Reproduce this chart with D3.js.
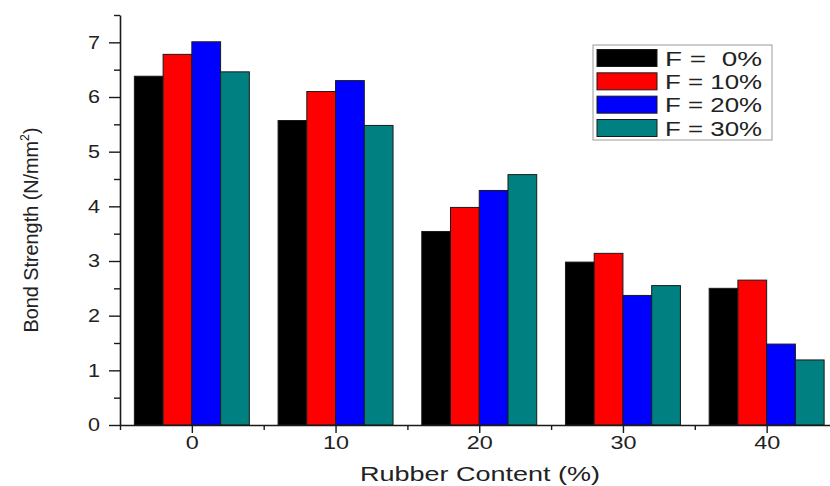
<!DOCTYPE html>
<html>
<head>
<meta charset="utf-8">
<script src="https://cdn.jsdelivr.net/npm/d3@7"></script>
<style>
  html, body { margin: 0; padding: 0; background: #fff; }
  svg { display: block; font-family: Arial, "Liberation Sans", sans-serif; }
</style>
</head>
<body>
<svg id="chart" width="830" height="486"></svg>
<script>
// ---- data ----
const categories = [0, 10, 20, 30, 40];
const seriesNames = ["F =  0%", "F = 10%", "F = 20%", "F = 30%"];
const f0  = [6.38, 5.57, 3.54, 2.98, 2.50];
const f10 = [6.78, 6.10, 3.98, 3.14, 2.65];
const f20 = [7.01, 6.30, 4.29, 2.37, 1.48];
const f30 = [6.46, 5.48, 4.58, 2.55, 1.19];
const seriesValues = [f0, f10, f20, f30];
const colors = ["#000000", "#ff0000", "#0000ff", "#008080"];
const yTickValues = [0, 1, 2, 3, 4, 5, 6, 7];
const yMinorTicks = [0.5, 1.5, 2.5, 3.5, 4.5, 5.5, 6.5, 7.5];
const xMinorTicks = [-5, 5, 15, 25, 35];
const xLabel = "Rubber Content (%)";

// ---- scales ----
const svg = d3.select("#chart");
const x = d3.scaleLinear().domain([-5, 45]).range([120, 838.5]);
const y = d3.scaleLinear().domain([0, 7.5]).range([425, 15]);
const barW = 2; // in data units (x)

// ---- bars ----
const bars = [];
seriesValues.forEach((vals, si) => {
  vals.forEach((v, ci) => bars.push({ si, cat: categories[ci], v }));
});
svg.append("g").selectAll("rect").data(bars).join("rect")
  .attr("x", d => x(d.cat - 2 * barW + d.si * barW))
  .attr("width", d => x(d.cat - barW + d.si * barW) - x(d.cat - 2 * barW + d.si * barW))
  .attr("y", d => y(d.v))
  .attr("height", d => y(0) - y(d.v))
  .attr("fill", d => colors[d.si])
  .attr("stroke", "#1a1a1a")
  .attr("stroke-width", 1);

// ---- axes ----
const axisColor = "#1a1a1a";
function styleAxis(g) {
  g.selectAll("path.domain").attr("stroke", axisColor).attr("stroke-width", 1.6);
  g.selectAll(".tick line").attr("stroke", axisColor).attr("stroke-width", 1.4);
  g.selectAll(".tick text").attr("fill", "#222").attr("font-size", 18)
    .attr("font-family", "Arial, 'Liberation Sans', sans-serif");
}

// y minor
svg.append("g").attr("transform", `translate(${x(-5)},0)`)
  .call(d3.axisLeft(y).tickValues(yMinorTicks).tickSize(6).tickSizeOuter(0).tickFormat(""))
  .call(g => g.select("path.domain").remove())
  .call(styleAxis);
// y major
svg.append("g").attr("transform", `translate(${x(-5)},0)`)
  .call(d3.axisLeft(y).tickValues(yTickValues).tickSize(11).tickSizeOuter(0).tickPadding(9).tickFormat(d3.format("d")))
  .call(styleAxis)
  .call(g => g.selectAll(".tick text").attr("textLength", 12).attr("lengthAdjust", "spacingAndGlyphs"));

// x minor
svg.append("g").attr("transform", `translate(0,${y(0)})`)
  .call(d3.axisBottom(x).tickValues(xMinorTicks).tickSize(5).tickSizeOuter(0).tickFormat(""))
  .call(g => g.select("path.domain").remove())
  .call(styleAxis);
// x major
svg.append("g").attr("transform", `translate(0,${y(0)})`)
  .call(d3.axisBottom(x).tickValues(categories).tickSize(8).tickSizeOuter(0).tickPadding(3).tickFormat(d3.format("d")))
  .call(styleAxis)
  .call(g => g.selectAll(".tick text")
    .attr("textLength", d => String(d).length * 13)
    .attr("lengthAdjust", "spacingAndGlyphs"));

// ---- axis labels ----
svg.append("text")
  .attr("x", 480).attr("y", 481)
  .attr("text-anchor", "middle")
  .attr("font-size", 20)
  .attr("fill", "#222")
  .attr("textLength", 240).attr("lengthAdjust", "spacingAndGlyphs")
  .text(xLabel);

const yl = svg.append("text")
  .attr("transform", "translate(38,230) rotate(-90)")
  .attr("text-anchor", "middle")
  .attr("font-size", 21)
  .attr("fill", "#222")
  .attr("textLength", 205).attr("lengthAdjust", "spacingAndGlyphs");
yl.append("tspan").text("Bond Strength (N/mm");
yl.append("tspan").attr("font-size", 13).attr("dy", -9).text("2");
yl.append("tspan").attr("dy", 9).text(")");

// ---- legend ----
const ly = d3.scalePoint().domain(seriesNames).range([58, 128]);
const legend = svg.append("g");
legend.append("rect")
  .attr("x", 593).attr("y", 45).attr("width", 179).attr("height", 95)
  .attr("fill", "#fff").attr("stroke", "#9a9a9a").attr("stroke-width", 1);
const items = legend.selectAll("g.item").data(seriesNames).join("g").attr("class", "item");
items.append("rect")
  .attr("x", 597).attr("y", d => ly(d) - 8.5)
  .attr("width", 60).attr("height", 17)
  .attr("fill", (d, i) => colors[i])
  .attr("stroke", "#1a1a1a").attr("stroke-width", 1);
items.append("text")
  .attr("x", 665).attr("y", d => ly(d) + 7.5)
  .attr("font-size", 21)
  .attr("fill", "#222")
  .style("white-space", "pre")
  .attr("xml:space", "preserve")
  .attr("textLength", 97).attr("lengthAdjust", "spacingAndGlyphs")
  .text(d => d);
</script>
</body>
</html>
